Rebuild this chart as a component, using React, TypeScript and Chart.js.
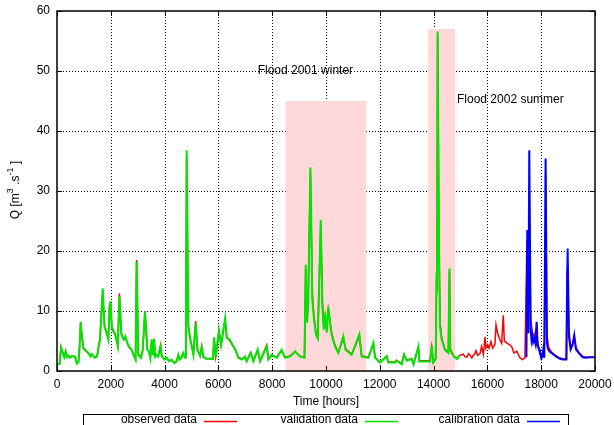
import React, { useEffect, useRef } from "react";
import { Chart, registerables } from "chart.js";

Chart.register(...registerables);

const FONT = "'Liberation Sans', Arial, Helvetica, sans-serif";

// Axis ticks
const hourTicks = [0, 2000, 4000, 6000, 8000, 10000, 12000, 14000, 16000, 18000, 20000];
const flowTicks = [0, 10, 20, 30, 40, 50, 60];

// Flood periods [from hour, to hour, top Q]
const floodPeriods: [number, number, number][] = [
  [8500, 11500, 45],
  [13800, 14800, 57],
];
const floodLabels = ["Flood 2001 winter", "Flood 2002 summer"];
// label anchors [hour, Q]
const floodLabelAnchors: [number, number][] = [
  [7460, 50],
  [14870, 45.2],
];

const seriesNames = ["observed data", "validation data", "calibration data"];

// Validation (model) [hour, Q]
const validationData: [number, number][] = [
  [0, 1.1], [100, 1.2], [150, 3.9], [200, 3.3], [270, 2.3], [320, 3.2], [370, 2.3], [420, 2.6],
  [480, 2.2], [570, 2.5], [670, 2.4], [740, 1.2], [800, 1.5], [840, 4.1], [880, 8.2], [920, 6.0],
  [980, 3.8], [1050, 3.5], [1180, 2.9], [1250, 2.4], [1300, 2.8], [1400, 2.2], [1490, 2.5],
  [1540, 3.8], [1600, 5.2], [1650, 9.3], [1700, 13.8], [1740, 9.5], [1770, 7.2], [1830, 6.7],
  [1910, 5.2], [1950, 10.4], [1985, 11.6], [2040, 7.2], [2100, 6.7], [2160, 6.1], [2260, 4.1],
  [2320, 12.5], [2390, 6.1], [2480, 5.3], [2540, 5.8], [2610, 4.7], [2670, 4.1], [2770, 3.5],
  [2860, 2.5], [2920, 1.9], [2960, 18.2], [3020, 2.7], [3120, 2.2], [3190, 3.5], [3270, 9.9],
  [3360, 3.5], [3420, 3.3], [3470, 2.2], [3520, 5.3], [3560, 2.6], [3610, 5.4], [3650, 2.4],
  [3700, 2.7], [3760, 2.4], [3850, 4.1], [3890, 2.5], [3990, 1.9], [4080, 2.2], [4170, 1.6],
  [4260, 1.9], [4360, 1.3], [4450, 1.6], [4510, 2.7], [4560, 1.9], [4630, 2.2], [4690, 3.0],
  [4760, 2.2], [4790, 2.6], [4820, 36.8], [4880, 7.4], [4940, 5.7], [5010, 4.0], [5070, 2.7],
  [5155, 8.0], [5220, 3.5], [5320, 2.5], [5380, 4.0], [5440, 2.3], [5550, 2.0], [5700, 2.1],
  [5800, 2.0], [5840, 5.6], [5900, 2.3], [6020, 6.8], [6100, 4.3], [6250, 8.8], [6310, 5.5],
  [6430, 5.2], [6520, 4.3], [6620, 3.7], [6740, 2.2], [6865, 1.9], [6990, 2.4], [7050, 1.6],
  [7200, 3.0], [7300, 1.6], [7460, 3.6], [7550, 1.6], [7795, 4.1], [7860, 1.9], [7980, 2.7],
  [8170, 2.2], [8350, 3.5], [8480, 2.2], [8660, 2.4], [8850, 3.3], [9030, 2.4], [9200, 2.2],
  [9246, 17.7], [9300, 8.0], [9340, 12.0], [9420, 33.9], [9494, 11.8], [9556, 8.5], [9630, 6.0],
  [9693, 5.4], [9805, 25.2], [9867, 10.7], [9917, 6.9], [9966, 9.6], [10028, 6.4], [10085, 10.7],
  [10210, 6.0], [10333, 4.1], [10457, 3.0], [10643, 5.8], [10730, 3.5], [10953, 2.7], [11240, 6.1],
  [11327, 2.4], [11575, 2.2], [11760, 4.7], [11823, 2.2], [12007, 1.4], [12255, 2.5], [12317, 1.4],
  [12565, 1.4], [12627, 1.7], [12814, 1.1], [12900, 2.8], [13000, 1.7], [13186, 2.0], [13250, 1.1],
  [13433, 4.1], [13470, 1.6], [13870, 1.6], [13930, 4.2], [13990, 1.4], [14080, 2.0], [14110, 16.5],
  [14125, 13.0], [14150, 56.6], [14200, 20.0], [14240, 7.4], [14300, 5.2], [14420, 3.5], [14550, 3.0],
  [14590, 17.1], [14620, 3.5], [14750, 2.4], [14870, 2.0], [14970, 2.6],
];

// Calibration (model) [hour, Q]
const calibrationData: [number, number][] = [
  [17450, 2.3], [17483, 23.5], [17520, 6.3], [17557, 36.8], [17607, 6.8], [17640, 5.2], [17668, 6.0],
  [17700, 4.8], [17743, 5.4], [17790, 4.5], [17830, 8.2], [17867, 4.2], [17920, 3.6], [17954, 3.0],
  [18016, 2.2], [18050, 2.8], [18078, 3.6], [18114, 2.2], [18164, 35.4], [18213, 4.6], [18260, 3.6],
  [18320, 3.2], [18380, 3.0], [18440, 2.8], [18500, 2.6], [18560, 2.4], [18630, 2.2], [18720, 2.0],
  [18820, 1.9], [18930, 1.9], [18983, 20.4], [19031, 5.7], [19094, 3.6], [19168, 4.4], [19229, 6.0],
  [19291, 3.6], [19400, 3.0], [19540, 2.3], [19670, 2.2], [19800, 2.3], [19980, 2.3],
];

// Observed [hour, Q]
const observedData: [number, number][] = [
  [0, 1.2], [100, 1.3], [150, 4.0], [200, 3.2], [270, 2.4], [320, 3.3], [370, 2.4], [420, 2.5],
  [480, 2.3], [570, 2.5], [670, 2.3], [740, 1.3], [800, 1.6], [840, 4.3], [880, 8.0], [920, 6.3],
  [980, 3.9], [1050, 3.4], [1180, 2.9], [1250, 2.5], [1300, 2.7], [1400, 2.3], [1490, 2.4],
  [1540, 3.9], [1600, 5.6], [1650, 10.0], [1700, 13.3], [1740, 9.8], [1770, 7.4], [1830, 6.4],
  [1910, 5.4], [1950, 10.9], [1985, 11.2], [2040, 7.4], [2100, 6.5], [2160, 6.2], [2260, 4.2],
  [2320, 12.9], [2390, 6.3], [2480, 5.2], [2540, 5.6], [2610, 4.8], [2670, 4.0], [2770, 3.6],
  [2860, 2.6], [2920, 2.0], [2960, 18.5], [3020, 2.9], [3120, 2.3], [3190, 3.7], [3270, 10.0],
  [3360, 3.6], [3420, 3.2], [3470, 2.3], [3520, 5.1], [3560, 2.7], [3610, 5.2], [3650, 2.5],
  [3700, 2.6], [3760, 2.5], [3850, 4.3], [3890, 2.6], [3990, 2.0], [4080, 2.1], [4170, 1.7],
  [4260, 1.8], [4360, 1.4], [4450, 1.7], [4510, 2.6], [4560, 2.0], [4630, 2.3], [4690, 2.9],
  [4760, 2.3], [4790, 2.8], [4820, 35.9], [4880, 7.8], [4940, 5.5], [5010, 4.2], [5070, 2.8],
  [5155, 8.3], [5220, 3.7], [5320, 2.6], [5380, 4.1], [5440, 2.4], [5550, 2.1], [5700, 2.0],
  [5800, 2.1], [5840, 5.4], [5900, 2.4], [6020, 6.5], [6100, 4.5], [6250, 8.5], [6310, 5.7],
  [6430, 5.0], [6520, 4.4], [6620, 3.6], [6740, 2.3], [6865, 2.0], [6990, 2.3], [7050, 1.7],
  [7200, 3.1], [7300, 1.7], [7460, 3.4], [7550, 1.7], [7795, 4.3], [7860, 2.0], [7980, 2.6],
  [8170, 2.3], [8350, 3.4], [8480, 2.3], [8660, 2.5], [8850, 3.2], [9030, 2.5], [9200, 2.3],
  [9246, 17.0], [9300, 8.5], [9340, 13.0], [9420, 33.0], [9494, 12.5], [9556, 8.9], [9630, 6.3],
  [9693, 5.6], [9805, 24.3], [9867, 11.3], [9917, 7.2], [9966, 9.2], [10028, 6.7], [10085, 10.2],
  [10210, 6.3], [10333, 4.3], [10457, 3.1], [10643, 5.5], [10730, 3.7], [10953, 2.8], [11240, 5.8],
  [11327, 2.5], [11575, 2.3], [11760, 4.5], [11823, 2.3], [12007, 1.5], [12255, 2.4], [12317, 1.5],
  [12565, 1.5], [12627, 1.8], [12814, 1.2], [12900, 2.7], [13000, 1.8], [13186, 2.1], [13250, 1.2],
  [13433, 3.9], [13470, 1.7], [13870, 1.7], [13930, 4.0], [13990, 1.5], [14080, 2.2], [14110, 15.5],
  [14125, 14.0], [14150, 55.8], [14200, 21.5], [14240, 7.9], [14300, 5.5], [14420, 3.6], [14550, 3.1],
  [14590, 16.6], [14620, 3.7], [14750, 2.5], [14870, 2.1], [14970, 2.6],
  [15100, 2.8], [15160, 2.4], [15240, 2.3], [15300, 2.9], [15360, 2.6], [15420, 2.2], [15460, 2.5],
  [15520, 2.8], [15575, 3.4], [15635, 2.6], [15725, 2.9], [15785, 4.1], [15850, 2.8], [15910, 5.7],
  [15945, 3.8], [16010, 4.4], [16060, 3.8], [16130, 4.9], [16195, 3.8], [16280, 4.4], [16320, 7.7],
  [16380, 6.3], [16465, 5.2], [16530, 4.6], [16590, 9.3], [16630, 5.0], [16715, 4.7], [16840, 4.3],
  [16900, 4.1], [16990, 3.0], [17090, 3.3], [17210, 2.2], [17300, 1.9], [17395, 2.2],
  [17470, 21.8], [17500, 12.0], [17557, 30.0], [17607, 9.0], [17668, 6.4], [17743, 5.8], [17830, 7.4],
  [17867, 4.8], [17954, 3.3], [18016, 2.5], [18078, 3.3], [18114, 2.4], [18150, 20.0], [18164, 33.0],
  [18213, 6.0], [18280, 3.9], [18380, 3.2], [18500, 2.7], [18630, 2.3], [18820, 2.0], [18930, 2.0],
  [18950, 16.0], [18983, 17.5], [19031, 7.0], [19094, 4.0], [19168, 4.6], [19229, 5.6], [19291, 4.0],
  [19400, 3.1], [19540, 2.4], [19670, 2.3], [19800, 2.3], [19980, 2.3],
];

const COLORS = { observed: "#ff0000", validation: "#00e600", calibration: "#0000ff", flood: "#ffd9d9" };

const toPoints = (d: [number, number][]) => d.map(([x, y]) => ({ x, y }));

const overlayPlugin = {
  id: "overlay",
  beforeDatasetsDraw(chart: any) {
    const { ctx, chartArea: a, scales } = chart;
    const xs = scales.x;
    const ys = scales.y;
    ctx.save();
    // dotted grid
    ctx.strokeStyle = "#000";
    ctx.lineWidth = 1;
    ctx.setLineDash([1, 2]);
    hourTicks.forEach((v) => {
      if (v === hourTicks[0] || v === hourTicks[hourTicks.length - 1]) return;
      const px = Math.round(xs.getPixelForValue(v)) + 0.5;
      ctx.beginPath();
      ctx.moveTo(px, a.top);
      ctx.lineTo(px, a.bottom);
      ctx.stroke();
    });
    flowTicks.forEach((v) => {
      if (v === flowTicks[0] || v === flowTicks[flowTicks.length - 1]) return;
      const py = Math.round(ys.getPixelForValue(v)) + 0.5;
      ctx.beginPath();
      ctx.moveTo(a.left, py);
      ctx.lineTo(a.right, py);
      ctx.stroke();
    });
    ctx.setLineDash([]);
    // flood rectangles
    ctx.fillStyle = COLORS.flood;
    floodPeriods.forEach(([from, to, top]) => {
      const l = xs.getPixelForValue(from);
      const r = xs.getPixelForValue(to);
      const t = ys.getPixelForValue(top);
      const b = ys.getPixelForValue(0);
      ctx.fillRect(l, t, r - l, b - t);
    });
    ctx.restore();
  },
  afterDatasetsDraw(chart: any) {
    const { ctx, chartArea: a, scales } = chart;
    const xs = scales.x;
    const ys = scales.y;
    ctx.save();
    // frame
    ctx.strokeStyle = "#000";
    ctx.lineWidth = 1.5;
    ctx.strokeRect(a.left, a.top, a.right - a.left, a.bottom - a.top);
    // inward ticks (mirrored)
    ctx.lineWidth = 1;
    const tl = 5;
    hourTicks.forEach((v) => {
      const px = Math.round(xs.getPixelForValue(v)) + 0.5;
      ctx.beginPath();
      ctx.moveTo(px, a.bottom);
      ctx.lineTo(px, a.bottom - tl);
      ctx.moveTo(px, a.top);
      ctx.lineTo(px, a.top + tl);
      ctx.stroke();
    });
    flowTicks.forEach((v) => {
      const py = Math.round(ys.getPixelForValue(v)) + 0.5;
      ctx.beginPath();
      ctx.moveTo(a.left, py);
      ctx.lineTo(a.left + tl, py);
      ctx.moveTo(a.right, py);
      ctx.lineTo(a.right - tl, py);
      ctx.stroke();
    });
    // tick labels
    ctx.fillStyle = "#000";
    ctx.font = `12px ${FONT}`;
    ctx.textBaseline = "middle";
    ctx.textAlign = "center";
    hourTicks.forEach((v) => {
      ctx.fillText(String(v), xs.getPixelForValue(v), a.bottom + 13.5);
    });
    ctx.textAlign = "right";
    flowTicks.forEach((v) => {
      ctx.fillText(String(v), a.left - 7, ys.getPixelForValue(v));
    });
    // flood labels
    ctx.textAlign = "left";
    floodLabels.forEach((label, i) => {
      const [hx, q] = floodLabelAnchors[i];
      ctx.fillText(label, xs.getPixelForValue(hx), ys.getPixelForValue(q));
    });
    // x title
    ctx.textAlign = "center";
    ctx.fillText("Time [hours]", (a.left + a.right) / 2, 402);
    // y title with superscripts
    ctx.save();
    ctx.translate(16, 190);
    ctx.rotate(-Math.PI / 2);
    const parts: [string, boolean][] = [["Q [m", false], ["3", true], [" .s", false], ["-1", true], [" ]", false]];
    const fontFor = (sup: boolean) => (sup ? `9px ${FONT}` : `12px ${FONT}`);
    let total = 0;
    parts.forEach(([t, sup]) => {
      ctx.font = fontFor(sup);
      total += ctx.measureText(t).width;
    });
    let cx = -total / 2;
    ctx.textAlign = "left";
    parts.forEach(([t, sup]) => {
      ctx.font = fontFor(sup);
      ctx.fillText(t, cx, sup ? -5 : 0);
      cx += ctx.measureText(t).width;
    });
    ctx.restore();
    // legend box
    ctx.lineWidth = 1;
    ctx.strokeStyle = "#000";
    ctx.strokeRect(83.5, 414.5, 485, 30);
    const legendColors = [COLORS.observed, COLORS.validation, COLORS.calibration];
    const textEnds = [197, 358, 520];
    ctx.font = `12px ${FONT}`;
    ctx.textAlign = "right";
    ctx.textBaseline = "middle";
    seriesNames.forEach((name, i) => {
      ctx.fillStyle = "#000";
      ctx.fillText(name, textEnds[i], 420);
      ctx.strokeStyle = legendColors[i];
      ctx.lineWidth = 1.5;
      ctx.beginPath();
      ctx.moveTo(textEnds[i] + 7, 421.5);
      ctx.lineTo(textEnds[i] + 40, 421.5);
      ctx.stroke();
    });
    ctx.restore();
  },
};

export default function App() {
  const ref = useRef<HTMLCanvasElement | null>(null);

  useEffect(() => {
    if (!ref.current) return;
    const chart = new Chart(ref.current, {
      type: "line",
      data: {
        datasets: [
          {
            label: seriesNames[2],
            data: toPoints(calibrationData),
            borderColor: COLORS.calibration,
            borderWidth: 2,
            pointRadius: 0,
            tension: 0,
          },
          {
            label: seriesNames[1],
            data: toPoints(validationData),
            borderColor: COLORS.validation,
            borderWidth: 2,
            pointRadius: 0,
            tension: 0,
          },
          {
            label: seriesNames[0],
            data: toPoints(observedData),
            borderColor: COLORS.observed,
            borderWidth: 1.5,
            pointRadius: 0,
            tension: 0,
          },
        ],
      },
      options: {
        animation: false,
        responsive: false,
        devicePixelRatio: 1,
        layout: { padding: { top: 11, right: 19, left: 0, bottom: 0 } },
        plugins: { legend: { display: false }, tooltip: { enabled: false } },
        scales: {
          x: {
            type: "linear",
            min: 0,
            max: 20000,
            afterFit: (s: any) => {
              s.height = 54;
            },
            afterBuildTicks: (s: any) => {
              s.ticks = hourTicks.map((value) => ({ value }));
            },
            ticks: { display: false },
            grid: { display: false, drawTicks: false },
            border: { display: false },
          },
          y: {
            type: "linear",
            min: 0,
            max: 60,
            afterFit: (s: any) => {
              s.width = 57;
            },
            afterBuildTicks: (s: any) => {
              s.ticks = flowTicks.map((value) => ({ value }));
            },
            ticks: { display: false },
            grid: { display: false, drawTicks: false },
            border: { display: false },
          },
        },
      },
      plugins: [overlayPlugin],
    });
    return () => chart.destroy();
  }, []);

  return (
    <div style={{ position: "fixed", left: 0, top: 0, width: 614, height: 425, background: "#fff" }}>
      <canvas ref={ref} width={614} height={425} style={{ display: "block", width: 614, height: 425 }} />
    </div>
  );
}
